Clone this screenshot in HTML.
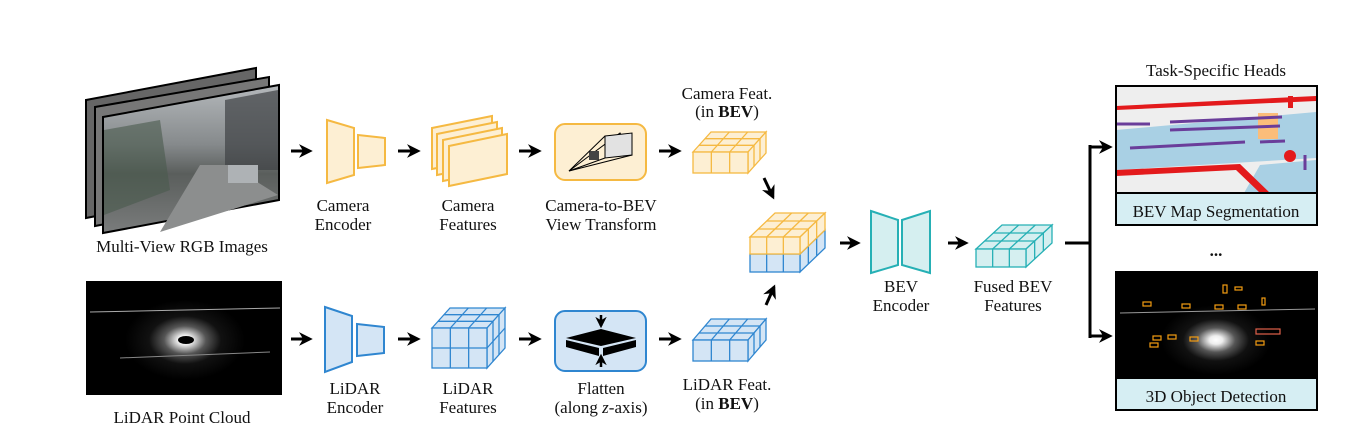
<!DOCTYPE html>
<html><head><meta charset="utf-8">
<style>
html,body{margin:0;padding:0;background:#fff;}
svg{display:block;}
text{font-family:"Liberation Serif",serif;font-size:17px;fill:#111;text-anchor:middle;}
</style></head>
<body>
<svg id="s" width="1349" height="447" viewBox="0 0 1349 447" xmlns="http://www.w3.org/2000/svg">
<defs>
<marker id="ah" viewBox="0 0 10 10" refX="8" refY="5" markerWidth="4.6" markerHeight="4.6" orient="auto"><path d="M0,0 L10,5 L0,10 L3,5 z" fill="#000"/></marker>
<linearGradient id="photo" x1="0" y1="0" x2="0" y2="1">
<stop offset="0" stop-color="#b4b8bb"/><stop offset="0.4" stop-color="#868a8c"/><stop offset="0.6" stop-color="#5a5e5c"/><stop offset="1" stop-color="#7a7c7c"/></linearGradient>
<radialGradient id="lid" cx="0.5" cy="0.5" r="0.5"><stop offset="0" stop-color="#fff"/><stop offset="0.12" stop-color="#eee"/><stop offset="0.35" stop-color="#555"/><stop offset="0.6" stop-color="#111"/><stop offset="1" stop-color="#000"/></radialGradient>
</defs>

<polygon points="86,100 256,68 256,185 86,218" fill="#666" stroke="#000" stroke-width="2"/>
<polygon points="95,107 269,77 269,193 95,226" fill="#777" stroke="#000" stroke-width="2"/>
<polygon points="103,117 279,85 279,200 103,233" fill="url(#photo)" stroke="#000" stroke-width="2"/>
<polygon points="104,130 160,120 170,190 104,215" fill="#4a5a4c" opacity="0.6"/>
<polygon points="225,100 278,90 278,170 225,170" fill="#3e4245" opacity="0.7"/>
<polygon points="160,232 200,165 230,165 278,195" fill="#8c8e8e"/>
<rect x="228" y="165" width="30" height="18" fill="#aeb2b5"/>
<text x="182" y="252">Multi-View RGB Images</text>

<rect x="86" y="281" width="196" height="114" fill="#000"/>
<ellipse cx="185" cy="340" rx="60" ry="40" fill="url(#lid)"/>
<line x1="90" y1="312" x2="280" y2="308" stroke="#aaa" stroke-width="1"/>
<line x1="120" y1="358" x2="270" y2="352" stroke="#888" stroke-width="1"/>
<ellipse cx="186" cy="340" rx="8" ry="4" fill="#000"/>
<text x="182" y="423">LiDAR Point Cloud</text>

<g stroke="#000" stroke-width="3" marker-end="url(#ah)">
<line x1="291" y1="151" x2="310" y2="151"/>
<line x1="398" y1="151" x2="418" y2="151"/>
<line x1="519" y1="151" x2="539" y2="151"/>
<line x1="659" y1="151" x2="679" y2="151"/>
<line x1="291" y1="339" x2="310" y2="339"/>
<line x1="398" y1="339" x2="418" y2="339"/>
<line x1="519" y1="339" x2="539" y2="339"/>
<line x1="659" y1="339" x2="679" y2="339"/>
<line x1="764" y1="178" x2="773" y2="197"/>
<line x1="766" y1="305" x2="774" y2="287"/>
<line x1="840" y1="243" x2="858" y2="243"/>
<line x1="948" y1="243" x2="966" y2="243"/>
<line x1="1090" y1="147" x2="1110" y2="147"/>
<line x1="1090" y1="336" x2="1110" y2="336"/>
</g>
<polyline points="1065,243 1090,243" stroke="#000" stroke-width="3" fill="none"/>
<line x1="1090" y1="145" x2="1090" y2="338" stroke="#000" stroke-width="3"/>

<g fill="#fdefd3" stroke="#f5b942" stroke-width="2">
<polygon points="327,120 354,128 354,175 327,183"/>
<polygon points="358,135 385,138 385,165 358,168"/>
<polygon points="432,128 492,116 492,157 432,169"/>
<polygon points="437,134 497,122 497,163 437,175"/>
<polygon points="443,140 502,128 502,169 443,181"/>
<polygon points="449,146 507,134 507,174 449,186"/>
<rect x="555" y="124" width="91" height="56" rx="10"/>
</g>
<polygon points="569,171 620,133 632,155" fill="none" stroke="#000" stroke-width="1"/>
<polygon points="605,136 632,133 632,155 605,158" fill="#e2e2e2" stroke="#000" stroke-width="1"/>
<rect x="589" y="151" width="10" height="9" fill="#444"/>
<line x1="569" y1="171" x2="605" y2="158" stroke="#000"/>
<line x1="569" y1="171" x2="605" y2="136" stroke="#000"/>
<text x="343" y="211">Camera</text><text x="343" y="230">Encoder</text>
<text x="468" y="211">Camera</text><text x="468" y="230">Features</text>
<text x="601" y="211">Camera-to-BEV</text><text x="601" y="230">View Transform</text>

<g fill="#d4e5f5" stroke="#2f86d0" stroke-width="2">
<polygon points="325,307 352,316 352,362 325,372"/>
<polygon points="357,324 384,327 384,353 357,356"/>
<rect x="555" y="311" width="91" height="60" rx="10"/>
</g>
<polygon points="566,338 601,329 636,338 601,346" fill="#000"/>
<polygon points="566,340 599,348 599,356 566,347" fill="#000"/>
<polygon points="603,348 636,340 636,347 603,356" fill="#000"/>
<line x1="601" y1="315" x2="601" y2="326" stroke="#000" stroke-width="2.5" marker-end="url(#ah)"/>
<line x1="601" y1="367" x2="601" y2="356" stroke="#000" stroke-width="2.5" marker-end="url(#ah)"/>
<text x="355" y="394">LiDAR</text><text x="355" y="413">Encoder</text>
<text x="468" y="394">LiDAR</text><text x="468" y="413">Features</text>
<text x="601" y="394">Flatten</text><text x="601" y="413">(along <tspan font-style="italic">z</tspan>-axis)</text>

<text x="727" y="99">Camera Feat.</text><text x="727" y="117">(in <tspan font-weight="bold">BEV</tspan>)</text>
<text x="727" y="390">LiDAR Feat.</text><text x="727" y="409">(in <tspan font-weight="bold">BEV</tspan>)</text>

<g fill="#d5eff0" stroke="#26b0b5" stroke-width="2">
<polygon points="871,211 898,220 898,265 871,273"/>
<polygon points="902,220 930,211 930,273 902,265"/>
</g>
<text x="901" y="292">BEV</text><text x="901" y="311">Encoder</text>
<text x="1013" y="292">Fused BEV</text><text x="1013" y="311">Features</text>

<g id="cubes"></g>

<text x="1216" y="76">Task-Specific Heads</text>
<rect x="1116" y="86" width="201" height="139" fill="#eeeeee"/>
<polygon points="1116,130 1316,112 1316,158 1116,170" fill="#a9d0e4"/>
<polygon points="1240,200 1260,165 1316,160 1316,193 1265,193" fill="#a9d0e4"/>
<polygon points="1116,106 1316,96 1316,101 1116,110" fill="#e31a1c"/>
<polygon points="1116,170 1240,164 1270,193 1260,193 1236,170 1116,176" fill="#e31a1c"/>
<rect x="1288" y="96" width="5" height="12" fill="#e31a1c"/>
<rect x="1258" y="113" width="20" height="26" fill="#fbbd7a"/>
<g stroke="#6a3d9a" stroke-width="3">
<line x1="1116" y1="124" x2="1150" y2="124"/><line x1="1170" y1="122" x2="1282" y2="117"/>
<line x1="1170" y1="130" x2="1280" y2="126"/><line x1="1130" y1="148" x2="1245" y2="142"/><line x1="1260" y1="142" x2="1285" y2="141"/>
<line x1="1305" y1="155" x2="1305" y2="170"/>
</g>
<circle cx="1290" cy="156" r="6" fill="#e31a1c"/>
<rect x="1116" y="193" width="201" height="32" fill="#d6eef3"/>
<rect x="1116" y="86" width="201" height="139" fill="none" stroke="#000" stroke-width="2"/>
<line x1="1116" y1="193" x2="1317" y2="193" stroke="#000" stroke-width="2"/>
<text x="1216" y="217">BEV Map Segmentation</text>
<text x="1216" y="256" font-weight="bold">...</text>

<rect x="1116" y="272" width="201" height="138" fill="#000"/>
<ellipse cx="1216" cy="340" rx="55" ry="35" fill="url(#lid)"/>
<line x1="1120" y1="313" x2="1315" y2="309" stroke="#999"/>
<g fill="none" stroke="#f39c12" stroke-width="1.2">
<rect x="1143" y="302" width="8" height="4"/><rect x="1182" y="304" width="8" height="4"/><rect x="1215" y="305" width="8" height="4"/>
<rect x="1238" y="305" width="8" height="4"/><rect x="1223" y="285" width="4" height="8"/><rect x="1235" y="287" width="7" height="3"/>
<rect x="1262" y="298" width="3" height="7"/><rect x="1153" y="336" width="8" height="4"/><rect x="1168" y="335" width="8" height="4"/>
<rect x="1190" y="337" width="8" height="4"/><rect x="1150" y="343" width="8" height="4"/><rect x="1256" y="341" width="8" height="4"/>
</g>
<rect x="1256" y="329" width="24" height="5" fill="none" stroke="#e0604a" stroke-width="1.2"/>
<rect x="1116" y="378" width="201" height="32" fill="#d6eef3"/>
<rect x="1116" y="272" width="201" height="138" fill="none" stroke="#000" stroke-width="2"/>
<line x1="1116" y1="378" x2="1317" y2="378" stroke="#000" stroke-width="2"/>
<text x="1216" y="402">3D Object Detection</text>
</svg>
<script>
var NS="http://www.w3.org/2000/svg",G=document.getElementById("cubes");
function el(t,a){var e=document.createElementNS(NS,t);for(var k in a)e.setAttribute(k,a[k]);G.appendChild(e);return e;}
function cube(x,y,w,h,dx,dy,cols,rows,dep,fill,st,noTop){
 var sw=1.3;
 if(!noTop)el("polygon",{points:[x,y,x+dx,y-dy,x+w+dx,y-dy,x+w,y].join(","),fill:fill,stroke:st,"stroke-width":sw});
 el("polygon",{points:[x+w,y,x+w+dx,y-dy,x+w+dx,y+h-dy,x+w,y+h].join(","),fill:fill,stroke:st,"stroke-width":sw});
 el("rect",{x:x,y:y,width:w,height:h,fill:fill,stroke:st,"stroke-width":sw});
 for(var i=1;i<cols;i++){var xx=x+i*w/cols;el("line",{x1:xx,y1:y,x2:xx,y2:y+h,stroke:st,"stroke-width":sw});
   if(!noTop)el("line",{x1:xx,y1:y,x2:xx+dx,y2:y-dy,stroke:st,"stroke-width":sw});}
 for(var j=1;j<rows;j++){var yy=y+j*h/rows;el("line",{x1:x,y1:yy,x2:x+w,y2:yy,stroke:st,"stroke-width":sw});
   el("line",{x1:x+w,y1:yy,x2:x+w+dx,y2:yy-dy,stroke:st,"stroke-width":sw});}
 for(var k=1;k<dep;k++){var t=k/dep;
   if(!noTop)el("line",{x1:x+t*dx,y1:y-t*dy,x2:x+w+t*dx,y2:y-t*dy,stroke:st,"stroke-width":sw});
   el("line",{x1:x+w+t*dx,y1:y-t*dy,x2:x+w+t*dx,y2:y+h-t*dy,stroke:st,"stroke-width":sw});}
}
var O=["#fdefd3","#f5b942"],B=["#d4e5f5","#2f86d0"],T=["#d5eff0","#26b0b5"];
cube(693,152,55,21,18,20,3,1,3,O[0],O[1]);
cube(432,328,55,40,18,20,3,2,3,B[0],B[1]);
cube(693,340,55,21,18,21,3,1,3,B[0],B[1]);
cube(750,254,50,18,25,24,3,1,3,B[0],B[1],true);
cube(750,237,50,17,25,24,3,1,3,O[0],O[1]);
cube(976,249,50,18,26,24,3,1,3,T[0],T[1]);
</script>
</body></html>
